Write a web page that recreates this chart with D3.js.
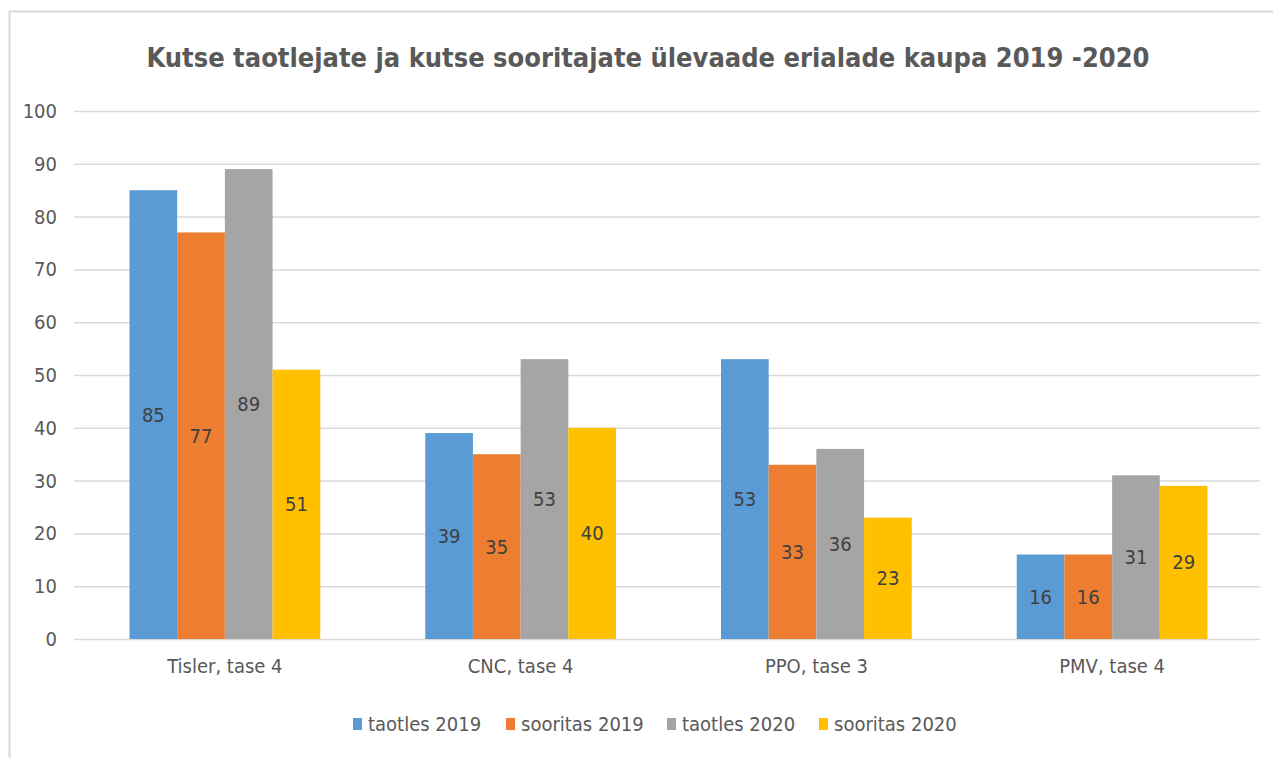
<!DOCTYPE html>
<html>
<head>
<meta charset="utf-8">
<script src="https://cdn.jsdelivr.net/npm/d3@7"></script>
<style>
  body { margin: 0; background: #fff; }
  text { font-family: "DejaVu Sans Condensed", "DejaVu Sans", sans-serif; }
</style>
</head>
<body>
<div id="vis"></div>
<script>
const categories = ["Tisler, tase 4", "CNC, tase 4", "PPO, tase 3", "PMV, tase 4"];
const seriesNames = ["taotles 2019", "sooritas 2019", "taotles 2020", "sooritas 2020"];
const taotles2019 = [85, 39, 53, 16];
const sooritas2019 = [77, 35, 33, 16];
const taotles2020 = [89, 53, 36, 31];
const sooritas2020 = [51, 40, 23, 29];
const yTicks = [0, 10, 20, 30, 40, 50, 60, 70, 80, 90, 100];
const colors = ["#5B9BD5", "#ED7D31", "#A5A5A5", "#FFC000"];

const values = [taotles2019, sooritas2019, taotles2020, sooritas2020];
const data = categories.map((c, i) => ({
  cat: c,
  vals: seriesNames.map((s, j) => ({ key: s, value: values[j][i], idx: j })),
}));

const W = 1273, H = 758;
const fs = 20;
const svg = d3.select("#vis").append("svg").attr("width", W).attr("height", H);

// chart frame
svg.append("rect")
  .attr("x", 9.5).attr("y", 11.5)
  .attr("width", W + 20).attr("height", H + 20)
  .attr("fill", "none").attr("stroke", "#d9d9d9").attr("stroke-width", 2);

const x0 = d3.scaleBand().domain(categories).range([77, 1260])
  .paddingInner(0.355).paddingOuter(0.1775);
const x1 = d3.scaleBand().domain(seriesNames).range([0, x0.bandwidth()]);
const y = d3.scaleLinear().domain([0, 100]).range([639, 111]);

// gridlines
svg.append("g").selectAll("line").data(yTicks).join("line")
  .attr("x1", 74).attr("x2", 1260)
  .attr("y1", (d) => y(d) + 0.5).attr("y2", (d) => y(d) + 0.5)
  .attr("stroke", "#d9d9d9").attr("stroke-width", 1.5);

// y axis labels
const yAxis = d3.axisLeft(y).tickValues(yTicks).tickSize(0).tickPadding(0);
svg.append("g")
  .attr("transform", "translate(57,0)")
  .call(yAxis)
  .call((g) => g.select(".domain").remove())
  .selectAll("text")
  .attr("font-size", fs).attr("fill", "#595959")
  .attr("font-family", null);

// x axis labels
const xAxis = d3.axisBottom(x0).tickSize(0).tickPadding(0);
svg.append("g")
  .attr("transform", "translate(0,659)")
  .call(xAxis)
  .call((g) => g.select(".domain").remove())
  .selectAll("text")
  .attr("font-size", fs).attr("fill", "#595959")
  .attr("font-family", null);

// bars
const groups = svg.append("g").selectAll("g").data(data).join("g")
  .attr("transform", (d) => `translate(${x0(d.cat)},0)`);

groups.selectAll("rect").data((d) => d.vals).join("rect")
  .attr("x", (d) => x1(d.key))
  .attr("y", (d) => y(d.value))
  .attr("width", x1.bandwidth())
  .attr("height", (d) => y(0) - y(d.value))
  .attr("fill", (d) => colors[d.idx]);

groups.selectAll("text").data((d) => d.vals).join("text")
  .attr("x", (d) => x1(d.key) + x1.bandwidth() / 2)
  .attr("y", (d) => (y(d.value) + y(0)) / 2)
  .attr("dy", "0.35em")
  .attr("text-anchor", "middle")
  .attr("font-size", fs)
  .attr("fill", "#404040")
  .text((d) => d.value);

// title
svg.append("text")
  .attr("x", 648).attr("y", 67)
  .attr("text-anchor", "middle")
  .attr("font-size", 27).attr("font-weight", "bold")
  .attr("fill", "#595959")
  .text("Kutse taotlejate ja kutse sooritajate ülevaade erialade kaupa 2019 -2020");

// legend
const legendX = [353, 506, 667, 819];
const legend = svg.append("g").selectAll("g").data(seriesNames).join("g")
  .attr("transform", (d, i) => `translate(${legendX[i]},724)`);
legend.append("rect")
  .attr("x", 0).attr("y", -6).attr("width", 9).attr("height", 12)
  .attr("fill", (d, i) => colors[i]);
legend.append("text")
  .attr("x", 15).attr("dy", "0.35em")
  .attr("font-size", fs).attr("fill", "#595959")
  .text((d) => d);
</script>
</body>
</html>
